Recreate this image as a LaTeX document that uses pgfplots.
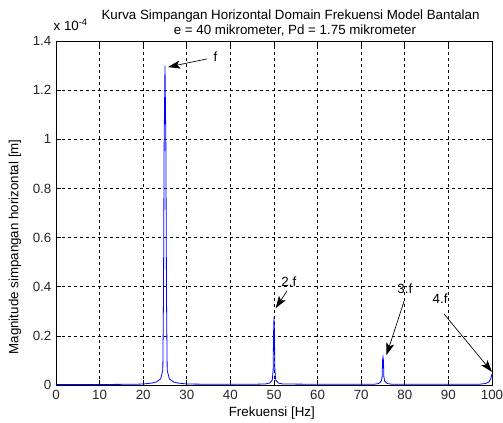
\documentclass[border=0pt]{standalone}
\usepackage{pgfplots}
\pgfplotsset{compat=1.18}
\usepackage{fontspec}
\setmainfont{Liberation Sans}
\usetikzlibrary{arrows.meta}
\begin{document}
\begin{tikzpicture}
\begin{axis}[
  scale only axis, width=327pt, height=258pt,
  xmin=0, xmax=100, ymin=0, ymax=1.4,
  xtick={0,10,...,100}, ytick={0,0.2,...,1.4},
  tick align=inside, major tick length=4pt,
  grid=major,
  major grid style={black, line width=0.5pt, dash pattern=on 2pt off 2.5pt},
  axis line style={black, line width=0.5pt},
  tick style={black, line width=0.5pt},
  ticklabel style={font=\fontsize{10}{12}\selectfont, text=black!85},
  /pgf/number format/assume math mode=true,
  scaled y ticks=false,
  clip=false,
  axis on top=false,
]
\addplot[blue, line width=0.6pt] coordinates {
(0,0.002) (10,0.002) (18,0.003) (20,0.004) (21,0.006) (22,0.008) (23,0.012) (24,0.025) (24.5,0.06) (24.65,0.35) (24.8,0.98) (25,1.30) (25.2,0.98) (25.35,0.35) (25.5,0.06) (26,0.025) (27,0.012) (28,0.008) (29,0.006) (30,0.004) (35,0.003) (45,0.003) (48,0.004) (49,0.008) (49.6,0.02) (49.8,0.06) (49.9,0.21) (50,0.277) (50.1,0.21) (50.2,0.06) (50.4,0.02) (51,0.008) (52,0.004) (60,0.003) (73,0.003) (74,0.006) (74.6,0.015) (74.8,0.033) (74.9,0.10) (75,0.114) (75.1,0.10) (75.2,0.033) (75.4,0.015) (76,0.006) (77,0.003) (97,0.003) (98.5,0.006) (99.3,0.012) (99.7,0.025) (100,0.045)
};
% annotations
\draw[-{Stealth[length=9pt,width=6pt,inset=2pt]}, black, line width=0.5pt] (axis cs:34.6,1.327) -- (axis cs:25.7,1.294);
\node[font=\fontsize{10}{12}\selectfont] at (axis cs:36.6,1.335) {f};
\draw[-{Stealth[length=9pt,width=6pt,inset=2pt]}, black, line width=0.5pt] (axis cs:53.0,0.383) -- (axis cs:50.4,0.313);
\node[font=\fontsize{10}{12}\selectfont] at (axis cs:53.4,0.42) {2.f};
\draw[-{Stealth[length=9pt,width=6pt,inset=2pt]}, black, line width=0.5pt] (axis cs:80.0,0.35) -- (axis cs:75.8,0.122);
\node[font=\fontsize{10}{12}\selectfont] at (axis cs:80.0,0.39) {3.f};
\draw[-{Stealth[length=9pt,width=6pt,inset=2pt]}, black, line width=0.5pt] (axis cs:89.0,0.289) -- (axis cs:100,0.053);
\node[font=\fontsize{10}{12}\selectfont] at (axis cs:88.1,0.352) {4.f};
% title and labels
\node[font=\fontsize{10}{12}\selectfont] at (axis cs:53.8,1.502) {Kurva Simpangan Horizontal Domain Frekuensi Model Bantalan};
\node[font=\fontsize{10}{12}\selectfont] at (axis cs:54.8,1.441) {e = 40 mikrometer, Pd = 1.75 mikrometer};
\node[font=\fontsize{10}{12}\selectfont, anchor=west, inner sep=0pt] at (axis cs:-0.6,1.467) {x 10\textsuperscript{-4}};
\node[font=\fontsize{10}{12}\selectfont, rotate=90] at (axis cs:-9.4,0.562) {Magnitude simpangan horizontal [m]};
\node[font=\fontsize{10}{12}\selectfont] at (axis cs:49.5,-0.114) {Frekuensi [Hz]};
\end{axis}
\pgfresetboundingbox
\path[use as bounding box] ([shift={(-42pt,-28.5pt)}]current axis.south west) rectangle ([shift={(8.25pt,30.75pt)}]current axis.north east);
\end{tikzpicture}
\end{document}
